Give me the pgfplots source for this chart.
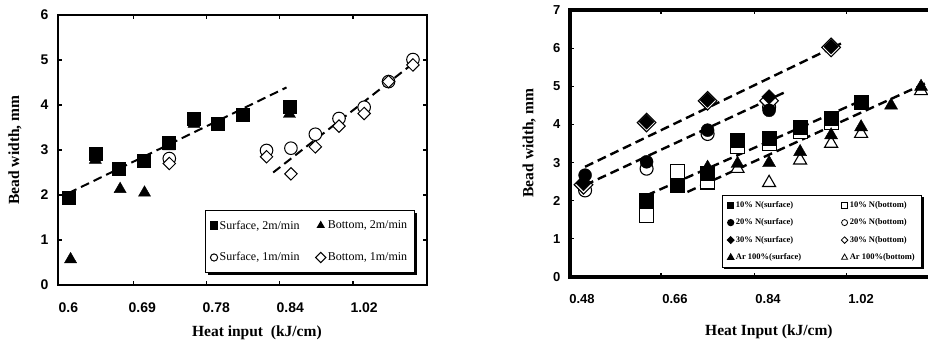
\documentclass[border=0pt]{standalone}
\usepackage{fontspec}
\setmainfont{Liberation Serif}
\newfontfamily\arialf{Liberation Sans}
\usepackage{pgfplots}
\pgfplotsset{compat=1.18}
\usetikzlibrary{shadows}
\begin{document}
\begin{tikzpicture}
\pgfplotsset{
  mychart/.style={
    scale only axis,
    anchor=south west,
    ymin=0,
    tick align=inside,
    major tick length=4pt,
    tick style={black, line width=1.2pt},
    /pgf/number format/assume math mode=true,
    xticklabel style={yshift=-14pt},
    yticklabel style={xshift=-6pt},
    label style={font=\bfseries\fontsize{15.5}{16}\selectfont},
    legend cell align=left,
    legend image code/.code={\draw[##1] plot coordinates {(0pt,0pt)};},
  },
  trend/.style={black, line width=2pt, dash pattern=on 9pt off 5pt, no marks, forget plot},
}
% ---------------- left chart ----------------
\begin{axis}[mychart,
  at={(58pt,57pt)}, width=369pt, height=270pt,
  xmin=-0.14, xmax=4.85, ymax=6,
  ytick={0,...,6},
  ticklabel style={font=\arialf\bfseries\fontsize{14}{14}\selectfont},
  xtick={0.88,1.87,2.86,3.85}, xticklabels={,,,},
  extra x ticks={0,1,2,3,4}, extra x tick labels={0.6,0.69,0.78,0.84,1.02},
  extra x tick style={major tick length=0pt},
  axis line style={line width=2.2pt},
  xlabel={Heat input\ \ (kJ/cm)}, ylabel={Bead width, mm},
  xlabel style={at={(axis description cs:0.539,-0.178)}, anchor=center},
  ylabel style={at={(axis description cs:-0.1165,0.5)}, anchor=center},
  legend columns=2,
  legend image post style={mark size=3.6pt},
  legend style={at={(0.967,0.044)}, anchor=south east, draw=black, line width=1.3pt,
    font=\fontsize{12}{12}\selectfont, row sep=18pt, inner xsep=5pt, inner ysep=8pt,
    /tikz/every even column/.append style={column sep=14pt},
    drop shadow={shadow xshift=2.5pt, shadow yshift=-2.5pt, fill=black, opacity=1}},
]
\addplot[only marks, mark=square*, mark size=6.5pt, mark options={fill=black, draw=black}]
  coordinates {(0,1.95) (0.365,2.91) (0.68,2.59) (1.02,2.76) (1.36,3.16) (1.70,3.69) (2.02,3.58) (2.36,3.79) (2.99,3.96)};
\addlegendentry{Surface, 2m/min}
\addplot[only marks, mark=triangle*, mark size=7pt, mark options={fill=black, draw=black}]
  coordinates {(0.03,0.57) (0.365,2.78) (0.70,2.13) (1.03,2.05) (1.36,3.08) (1.70,3.58) (2.99,3.80)};
\addlegendentry{Bottom, 2m/min}
\addplot[only marks, mark=*, mark size=6.3pt, mark options={fill=white, draw=black, line width=1pt}]
  coordinates {(1.365,2.81) (2.68,2.99) (3.01,3.04) (3.34,3.35) (3.66,3.70) (4.0,3.95) (4.33,4.52) (4.66,5.01)};
\addlegendentry{Surface, 1m/min}
\addplot[only marks, mark=square*, mark size=4.4pt, mark options={rotate=45, fill=white, draw=black, line width=1pt}]
  coordinates {(1.365,2.70) (2.68,2.85) (3.01,2.47) (3.34,3.07) (3.66,3.53) (4.0,3.81) (4.33,4.52) (4.66,4.89)};
\addlegendentry{Bottom, 1m/min}
\addplot[trend] coordinates {(0,2.04) (2.95,4.39)};
\addplot[trend] coordinates {(2.77,2.50) (4.69,4.96)};
\end{axis}
% ---------------- right chart ----------------
\begin{axis}[mychart,
  at={(570pt,65pt)}, width=365pt, height=267pt,
  xmin=0.4568, xmax=1.163, ymax=7,
  ytick={0,...,7},
  ticklabel style={font=\arialf\bfseries\fontsize{13}{13}\selectfont},
  xtick={0.633,0.813,0.991}, xticklabels={,,},
  extra x ticks={0.48,0.66,0.84,1.02}, extra x tick labels={0.48,0.66,0.84,1.02},
  extra x tick style={major tick length=0pt},
  axis line style={line width=3.2pt},
  xlabel={Heat Input (kJ/cm)}, ylabel={Bead width, mm},
  xlabel style={at={(axis description cs:0.545,-0.206)}, anchor=center},
  ylabel style={at={(axis description cs:-0.112,0.502)}, anchor=center},
  legend columns=2,
  legend style={at={(0.416,0.034)}, anchor=south west, draw=black, line width=1.2pt,
    font=\bfseries\fontsize{8.5}{8.5}\selectfont, row sep=6pt, inner xsep=5pt, inner ysep=4pt,
    /tikz/every even column/.append style={column sep=38pt},
    drop shadow={shadow xshift=2pt, shadow yshift=-2pt, fill=black, opacity=1}},
]
\addlegendimage{only marks, mark=square*, mark size=3pt, mark options={fill=black}}
\addlegendentry{10\% N(surface)}
\addlegendimage{only marks, mark=square*, mark size=3pt, mark options={fill=white, line width=0.8pt}}
\addlegendentry{10\% N(bottom)}
\addlegendimage{only marks, mark=*, mark size=3pt, mark options={fill=black}}
\addlegendentry{20\% N(surface)}
\addlegendimage{only marks, mark=*, mark size=3pt, mark options={fill=white, line width=0.8pt}}
\addlegendentry{20\% N(bottom)}
\addlegendimage{only marks, mark=square*, mark size=2.3pt, mark options={rotate=45, fill=black}}
\addlegendentry{30\% N(surface)}
\addlegendimage{only marks, mark=square*, mark size=2.3pt, mark options={rotate=45, fill=white, line width=0.8pt}}
\addlegendentry{30\% N(bottom)}
\addlegendimage{only marks, mark=triangle*, mark size=3.5pt, mark options={fill=black}}
\addlegendentry{Ar 100\%(surface)}
\addlegendimage{only marks, mark=triangle*, mark size=3.5pt, mark options={fill=white, line width=0.8pt}}
\addlegendentry{Ar 100\%(bottom)}
% bottom (open) series first
\addplot[forget plot, only marks, mark=square*, mark size=7pt, mark options={fill=white, draw=black, line width=1.1pt}]
  coordinates {(0.605,1.62) (0.664,2.76) (0.723,2.49) (0.781,3.41) (0.842,3.50) (0.902,3.81) (0.962,4.05)};
\addplot[forget plot, only marks, mark=*, mark size=6.5pt, mark options={fill=white, draw=black, line width=1.1pt}]
  coordinates {(0.486,2.27) (0.605,2.84) (0.723,3.75) (0.842,4.45)};
\addplot[forget plot, only marks, mark=square*, mark size=6.6pt, mark options={rotate=45, fill=white, draw=black, line width=1.1pt}]
  coordinates {(0.483,2.42) (0.605,4.05) (0.723,4.62) (0.842,4.62) (0.962,6.02)};
\addplot[forget plot, only marks, mark=triangle*, mark size=7.5pt, mark options={fill=white, draw=black, line width=1.1pt}]
  coordinates {(0.781,2.84) (0.842,2.47) (0.902,3.06) (0.962,3.50) (1.020,3.76) (1.136,4.88)};
% surface (filled) series
\addplot[forget plot, only marks, mark=square*, mark size=7pt, mark options={fill=black, draw=black}]
  coordinates {(0.605,2.01) (0.664,2.41) (0.723,2.71) (0.781,3.59) (0.842,3.63) (0.902,3.94) (0.962,4.16) (1.020,4.59)};
\addplot[forget plot, only marks, mark=*, mark size=6.5pt, mark options={fill=black, draw=black}]
  coordinates {(0.486,2.67) (0.605,3.02) (0.723,3.85) (0.842,4.37)};
\addplot[forget plot, only marks, mark=square*, mark size=5.2pt, mark options={rotate=45, fill=black, draw=black}]
  coordinates {(0.483,2.45) (0.605,4.07) (0.723,4.64) (0.842,4.72) (0.962,6.04)};
\addplot[forget plot, only marks, mark=triangle*, mark size=7.5pt, mark options={fill=black, draw=black}]
  coordinates {(0.723,2.87) (0.781,2.97) (0.842,2.99) (0.902,3.28) (0.962,3.72) (1.020,3.93) (1.078,4.50) (1.136,4.99)};
\addplot[trend, line width=2.4pt] coordinates {(0.486,2.89) (0.981,6.12)};
\addplot[trend, line width=2.4pt] coordinates {(0.486,2.41) (0.875,4.86)};
\addplot[trend, line width=2.4pt] coordinates {(0.605,2.14) (1.023,4.64)};
\addplot[trend, line width=2.4pt] coordinates {(0.684,2.23) (1.151,5.12)};
\end{axis}
\pgfresetboundingbox
\path[use as bounding box] (0pt,0pt) rectangle (928pt,342pt);
\end{tikzpicture}
\end{document}
